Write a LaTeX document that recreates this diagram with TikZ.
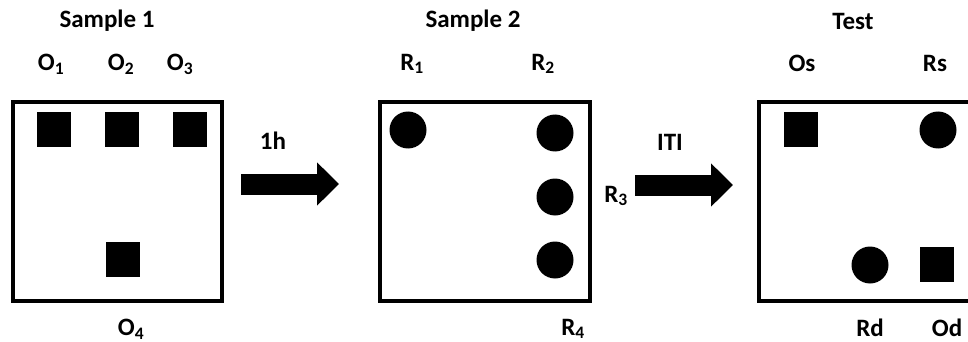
\documentclass[tikz,border=0pt]{standalone}
\usepackage{fontspec}
\setmainfont{Carlito}
\usetikzlibrary{arrows.meta}
\begin{document}
\begin{tikzpicture}[x=1pt,y=-1pt,
  lbl/.style={font=\fontsize{25}{28}\selectfont\bfseries, inner sep=0pt, anchor=center},
  arena/.style={draw=black, line width=4pt, fill=white},
  sq/.style={fill=black, minimum width=34pt, minimum height=35pt, inner sep=0pt},
  disc/.style={circle, fill=black, minimum size=37pt, inner sep=0pt},
  blockarrow/.style={line width=21pt, -{Triangle[length=22pt,width=42pt]}}]
\useasboundingbox (0,0) rectangle (968,342);
% arenas
\draw[arena] (13,102) rectangle (222,301);
\draw[arena] (380,102) rectangle (590,301);
\draw[arena] (759,102) rectangle (975,301);
\node[inner sep=0pt] (box1) at (117.5,201.5) {};
\node[inner sep=0pt] (box2) at (485,201.5) {};
\node[inner sep=0pt] (box3) at (866,201.5) {};
% sample 1
\node[sq] (o1) at (54,129.5) {};
\node[sq] (o2) at (122,129.5) {};
\node[sq] (o3) at (190,129.5) {};
\node[sq] (o4) at (123,259.5) {};
\node[lbl] (t1) at (107,21) {Sample 1};
\node[lbl] (lo1) at (51,64) {O\textsubscript{1}};
\node[lbl] (lo2) at (121,64) {O\textsubscript{2}};
\node[lbl] (lo3) at (180,64) {O\textsubscript{3}};
\node[lbl] (lo4) at (131,329) {O\textsubscript{4}};
% sample 2
\node[disc] (r1) at (408,130) {};
\node[disc] (r2) at (555,133) {};
\node[disc] (r3) at (555,197) {};
\node[disc] (r4) at (555,260) {};
\node[lbl] (t2) at (473,21) {Sample 2};
\node[lbl] (lr1) at (412,64) {R\textsubscript{1}};
\node[lbl] (lr2) at (543,64) {R\textsubscript{2}};
\node[lbl] (lr3) at (616,196) {R\textsubscript{3}};
\node[lbl] (lr4) at (573,329) {R\textsubscript{4}};
% test
\node[sq] (os) at (801,129.5) {};
\node[disc] (rs) at (938,130) {};
\node[disc] (rd) at (870,265) {};
\node[sq] (od) at (937,264.5) {};
\node[lbl] (t3) at (853,21) {Test};
\node[lbl] (los) at (802,63) {Os};
\node[lbl] (lrs) at (935,63) {Rs};
\node[lbl] (lrd) at (870,328) {Rd};
\node[lbl] (lod) at (947,328) {Od};
% arrows
\coordinate (a1s) at (241,184);
\coordinate (a1e) at (339,184);
\coordinate (a2s) at (635,185);
\coordinate (a2e) at (733,185);
\draw[blockarrow] (a1s) -- (a1e);
\draw[blockarrow] (a2s) -- (a2e);
\node[lbl] (l1h) at (273,141) {1h};
\node[lbl] (liti) at (670,142) {ITI};
\end{tikzpicture}
\end{document}
